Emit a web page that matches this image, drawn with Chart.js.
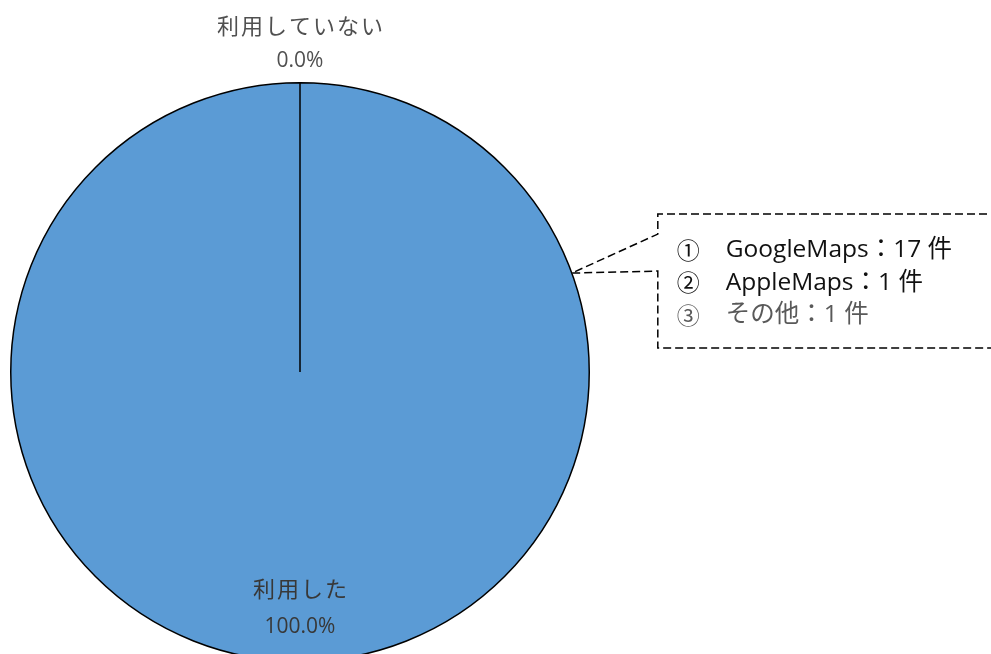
<!DOCTYPE html>
<html>
<head>
<meta charset="utf-8">
<script src="https://cdn.jsdelivr.net/npm/chart.js@4/dist/chart.umd.min.js"></script>
<style>
  html, body { margin: 0; padding: 0; background: #fff; overflow: hidden; }
  #wrap { width: 991px; height: 672px; position: relative; }
</style>
</head>
<body>
<div id="wrap"><canvas id="myChart"></canvas></div>
<script>
const labels = ["利用した", "利用していない"];
const values = [19, 0];
const colors = ["#5B9BD5", "#ED7D31"];

// breakdown shown in the callout box
const calloutMarks = ["①", "②", "③"];
const calloutNames = ["GoogleMaps", "AppleMaps", "その他"];
const calloutCounts = [17, 1, 1];

const nameFont = '22px "Noto Sans CJK JP", sans-serif';
const pctFont = '21px "Open Sans", "Noto Sans CJK JP", sans-serif';

const sliceLabels = {
  id: "sliceLabels",
  afterDatasetsDraw(chart) {
    const ctx = chart.ctx;
    const arcs = chart.getDatasetMeta(0).data;
    const total = values.reduce((a, b) => a + b, 0);
    ctx.save();
    ctx.textAlign = "center";
    ctx.textBaseline = "middle";
    arcs.forEach((arc, i) => {
      const { x, y, startAngle, endAngle, outerRadius } = arc.getProps(
        ["x", "y", "startAngle", "endAngle", "outerRadius"], true);
      const mid = (startAngle + endAngle) / 2;
      const pct = (values[i] / total * 100).toFixed(1) + "%";
      let rName, rPct;
      if (values[i] === 0) {
        rName = outerRadius + 57;
        rPct = outerRadius + 22;
        ctx.fillStyle = "#505050";
      } else {
        rName = outerRadius * 0.75;
        rPct = outerRadius * 0.88;
        ctx.fillStyle = "#383838";
      }
      ctx.font = nameFont;
      ctx.letterSpacing = "2px";
      ctx.fillText(labels[i], x + Math.cos(mid) * rName + 1, y + Math.sin(mid) * rName);
      ctx.font = pctFont;
      ctx.letterSpacing = "0px";
      ctx.fillText(pct, x + Math.cos(mid) * rPct, y + Math.sin(mid) * rPct);
    });
    ctx.restore();
  },
};

const callout = {
  id: "callout",
  afterDraw(chart) {
    const ctx = chart.ctx;
    const arc = chart.getDatasetMeta(0).data[0];
    const { x, y, outerRadius } = arc.getProps(["x", "y", "outerRadius"], true);
    const ang = -20 * Math.PI / 180;
    const ax = x + Math.cos(ang) * outerRadius;
    const ay = y + Math.sin(ang) * outerRadius;
    const left = ax + 86;
    const top = ay - 59;
    const bottom = ay + 75;
    const right = chart.width + 20;

    ctx.save();
    ctx.strokeStyle = "#000";
    ctx.lineWidth = 1.5;
    ctx.setLineDash([8, 4]);
    ctx.beginPath();
    ctx.moveTo(right, top);
    ctx.lineTo(left, top);
    ctx.lineTo(left, ay - 39);
    ctx.lineTo(ax, ay);
    ctx.lineTo(left, ay - 2);
    ctx.lineTo(left, bottom);
    ctx.lineTo(right, bottom);
    ctx.stroke();
    ctx.setLineDash([]);

    ctx.textBaseline = "middle";
    ctx.textAlign = "left";
    calloutNames.forEach((name, i) => {
      const ty = top + 36 + i * 32.5;
      ctx.fillStyle = i === 2 ? "#595959" : "#111";
      ctx.font = '23px "Noto Sans CJK JP", sans-serif';
      ctx.fillText(calloutMarks[i], left + 19, ty);
      ctx.font = '24.5px "Open Sans", "Noto Sans CJK JP", sans-serif';
      ctx.fillText(name + "：" + calloutCounts[i] + " 件", left + 68, ty);
    });
    ctx.restore();
  },
};

new Chart(document.getElementById("myChart"), {
  type: "pie",
  data: {
    labels: labels,
    datasets: [
      {
        data: values,
        backgroundColor: colors,
        borderColor: "#000",
        borderWidth: 1.5,
      },
    ],
  },
  options: {
    responsive: true,
    maintainAspectRatio: false,
    animation: false,
    layout: { padding: { left: 10, right: 401, top: 82, bottom: 10 } },
    plugins: {
      legend: { display: false },
      tooltip: { enabled: false },
    },
  },
  plugins: [sliceLabels, callout],
});
</script>
</body>
</html>
